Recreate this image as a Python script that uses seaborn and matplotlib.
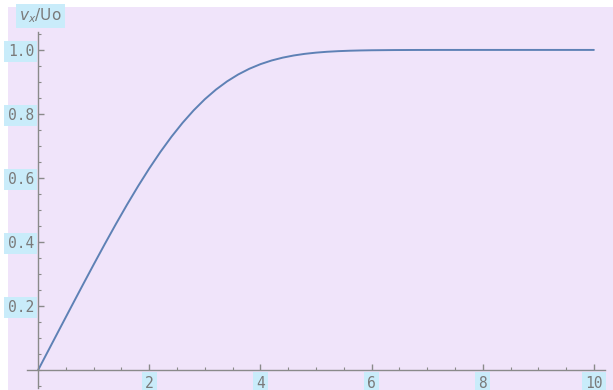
import numpy as np
import pandas as pd
import matplotlib
matplotlib.use("Agg")
import matplotlib.pyplot as plt
from matplotlib.ticker import MultipleLocator, FixedLocator, FuncFormatter
from matplotlib.patches import Rectangle
import seaborn as sns

# Blasius boundary-layer velocity profile: eta vs v_x/Uo
eta = [0.0, 0.2, 0.4, 0.6, 0.8, 1.0, 1.2, 1.4, 1.6, 1.8, 2.0, 2.2, 2.4, 2.6,
       2.8, 3.0, 3.2, 3.4, 3.6, 3.8, 4.0, 4.2, 4.4, 4.6, 4.8, 5.0, 5.2, 5.4,
       5.6, 5.8, 6.0, 6.4, 6.8, 7.2, 8.0, 9.0, 10.0]
vx_over_u0 = [0.0, 0.06641, 0.13277, 0.19894, 0.26471, 0.32979, 0.39378,
              0.45627, 0.51676, 0.57477, 0.62977, 0.68132, 0.72899, 0.77246,
              0.81152, 0.84605, 0.87609, 0.90177, 0.92333, 0.94112, 0.95552,
              0.96696, 0.97587, 0.98269, 0.98779, 0.99155, 0.99425, 0.99616,
              0.99748, 0.99838, 0.99898, 0.99961, 0.99987, 0.99996, 1.0, 1.0,
              1.0]
x_ticks = [2, 4, 6, 8, 10]
y_ticks = [0.2, 0.4, 0.6, 0.8, 1.0]
y_label = r"$v_x$/Uo"

df = pd.DataFrame({"eta": eta, "v": vx_over_u0})

sns.set_theme(style="white")
plt.rcParams["font.family"] = ["DejaVu Sans Mono", "DejaVu Sans"]

W, H = 613, 390
fig = plt.figure(figsize=(W / 100, H / 100), dpi=100, facecolor="white")

bg = "#F0E4FA"
label_bg = "#C9ECFA"
text_col = "#7A7A7A"
axis_col = "#8A8A8A"

# lavender panel, leaving a thin white strip at left and top
fig.patches.append(Rectangle((8 / W, 0), 1 - 8 / W, 1 - 7 / H,
                             transform=fig.transFigure, facecolor=bg,
                             edgecolor="none", zorder=-10))

ax = fig.add_axes([27 / W, 2 / H, 578 / W, 356 / H])
ax.set_facecolor("none")
ax.set_zorder(5)

sns.lineplot(data=df, x="eta", y="v", ax=ax, color="#5E81B5", lw=1.4)

ax.set_xlim(-0.2, 10.2)
ax.set_ylim(-0.056, 1.056)
ax.set_xlabel("")
ax.set_ylabel("")

for s in ["top", "right"]:
    ax.spines[s].set_visible(False)
for s in ["left", "bottom"]:
    ax.spines[s].set_position(("data", 0))
    ax.spines[s].set_color(axis_col)
    ax.spines[s].set_linewidth(1.0)

ax.xaxis.set_major_locator(FixedLocator(x_ticks))
ax.yaxis.set_major_locator(FixedLocator(y_ticks))
ax.xaxis.set_minor_locator(MultipleLocator(0.5))
ax.yaxis.set_minor_locator(MultipleLocator(0.05))
ax.xaxis.set_major_formatter(FuncFormatter(lambda v, p: f"{v:g}"))
ax.yaxis.set_major_formatter(FuncFormatter(lambda v, p: f"{v:.1f}"))

ax.tick_params(which="both", left=True, bottom=True)
ax.tick_params(which="major", direction="in", length=4, width=1,
               color=axis_col, labelcolor=text_col, labelsize=10.5)
ax.tick_params(which="minor", direction="in", length=2.5, width=0.8,
               color=axis_col)
ax.tick_params(axis="y", which="major", pad=3)
ax.tick_params(axis="x", which="major", pad=4)

for lab in ax.get_xticklabels() + ax.get_yticklabels():
    lab.set_bbox(dict(boxstyle="square,pad=0.22", facecolor=label_bg,
                      edgecolor="none"))

fig.text(19 / W, 1 - 16 / H, y_label, ha="left", va="center", fontsize=11,
         color=text_col, family=["DejaVu Sans"],
         bbox=dict(boxstyle="square,pad=0.2", facecolor=label_bg,
                   edgecolor="none"))

fig.savefig("out.png", dpi=100, facecolor="white")
